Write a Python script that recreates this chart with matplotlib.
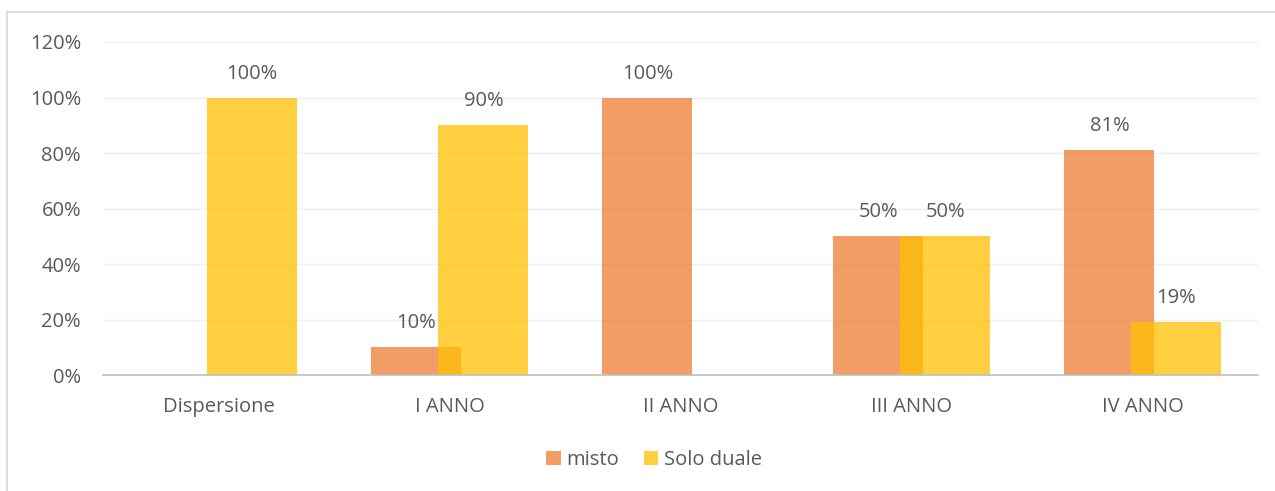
#coding: utf-8
import numpy as np
import matplotlib
matplotlib.use('Agg')
import matplotlib.pyplot as plt
from matplotlib.lines import Line2D

'''misto vs solo duale per anno'''

categorie=['Dispersione','I ANNO','II ANNO','III ANNO','IV ANNO']
misto=[None,10,100,50,81]
solo_duale=[100,90,None,50,19]
serie=['misto','Solo duale']

plt.rcParams['font.family']=['Open Sans','DejaVu Sans']

col_misto='#ED7D31'
col_duale='#FFC000'
grigio='#595959'
fs=14.5

fig=plt.figure(figsize=(12.75,4.91),dpi=100)
ax=fig.add_axes([0.081,0.236,0.906,0.6785])

x=np.arange(len(categorie))
w=0.39
off=0.145

def _barre(vals,dx,col,lab):
	xs=[xi+dx for xi,v in zip(x,vals) if v is not None]
	vs=[v for v in vals if v is not None]
	b=ax.bar(xs,vs,w,color=col,alpha=0.75,label=lab,zorder=2,linewidth=0)
	for xx,v in zip(xs,vs):
		ax.text(xx,v+5,str(v)+'%',ha='center',va='bottom',fontsize=fs,color=grigio)
	return b

_barre(misto,-off,col_misto,serie[0])
_barre(solo_duale,off,col_duale,serie[1])

ax.set_xlim(-0.5,4.5)
ax.set_ylim(0,120)
ax.set_yticks(range(0,121,20))
ax.set_yticklabels([str(t)+'%' for t in range(0,121,20)])
ax.set_xticks(x)
ax.set_xticklabels(categorie)
ax.tick_params(axis='both',length=0,labelsize=fs,labelcolor=grigio)
ax.tick_params(axis='y',pad=16)
ax.tick_params(axis='x',pad=16)
ax.grid(axis='y',color='#EFEFEF',linewidth=1,zorder=0)
for s in ['top','right','left']:
	ax.spines[s].set_visible(False)
ax.spines['bottom'].set_color('#BFBFBF')
ax.spines['bottom'].set_linewidth(1.2)

h=[plt.Rectangle((0,0),1,1,color=col_misto,alpha=0.75,linewidth=0),
	plt.Rectangle((0,0),1,1,color=col_duale,alpha=0.75,linewidth=0)]
fig.legend(h,serie,loc='center',bbox_to_anchor=(0.513,0.063),ncol=2,frameon=False,
	fontsize=fs,labelcolor=grigio,handlelength=0.7,handleheight=0.7,
	handletextpad=0.3,columnspacing=1.2)

# bordo grafico
fig.add_artist(Line2D([7/1275,7/1275],[0,1-12/491],color='#D9D9D9',linewidth=1.2))
fig.add_artist(Line2D([7/1275,1],[1-12/491,1-12/491],color='#D9D9D9',linewidth=1.2))

fig.savefig('out.png',dpi=100)
